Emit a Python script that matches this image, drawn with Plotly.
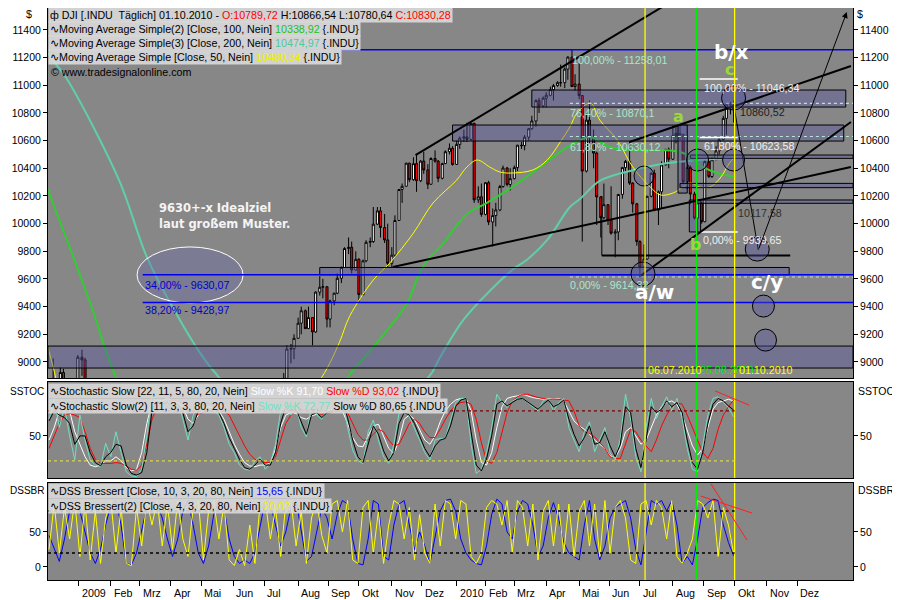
import pandas as pd
import plotly.graph_objects as go

# ---------------- price bars (2-3 trading days per bar) ----------------
candle_dates = [
    "2008-12-01", "2008-12-04", "2008-12-08", "2008-12-11", "2008-12-15", "2008-12-18", "2008-12-22", "2008-12-25", "2008-12-29",
    "2009-01-01", "2009-01-05", "2009-01-08", "2009-01-12",
    "2009-06-01", "2009-06-04", "2009-06-08", "2009-06-11", "2009-06-15", "2009-06-18", "2009-06-22", "2009-06-25", "2009-06-29", "2009-07-02",
    "2009-07-06", "2009-07-09", "2009-07-13", "2009-07-16", "2009-07-20", "2009-07-23", "2009-07-27", "2009-07-30",
    "2009-08-03", "2009-08-06", "2009-08-10", "2009-08-13", "2009-08-17", "2009-08-20", "2009-08-24", "2009-08-27",
    "2009-08-31", "2009-09-03", "2009-09-07", "2009-09-10", "2009-09-14", "2009-09-17", "2009-09-21", "2009-09-24",
    "2009-09-28", "2009-10-01", "2009-10-05", "2009-10-08", "2009-10-12", "2009-10-15", "2009-10-19", "2009-10-22", "2009-10-26", "2009-10-29",
    "2009-11-02", "2009-11-05", "2009-11-09", "2009-11-12", "2009-11-16", "2009-11-19", "2009-11-23", "2009-11-26",
    "2009-11-30", "2009-12-03", "2009-12-07", "2009-12-10", "2009-12-14", "2009-12-17", "2009-12-21", "2009-12-24", "2009-12-28", "2009-12-31",
    "2010-01-04", "2010-01-07", "2010-01-11", "2010-01-14", "2010-01-18", "2010-01-21", "2010-01-25", "2010-01-28",
    "2010-02-01", "2010-02-04", "2010-02-08", "2010-02-11", "2010-02-15", "2010-02-18", "2010-02-22", "2010-02-25",
    "2010-03-01", "2010-03-04", "2010-03-08", "2010-03-11", "2010-03-15", "2010-03-18", "2010-03-22", "2010-03-25", "2010-03-29",
    "2010-04-01", "2010-04-05", "2010-04-08", "2010-04-12", "2010-04-15", "2010-04-19", "2010-04-22", "2010-04-26", "2010-04-29",
    "2010-05-03", "2010-05-06", "2010-05-10", "2010-05-13", "2010-05-17", "2010-05-20", "2010-05-24", "2010-05-27",
    "2010-05-31", "2010-06-03", "2010-06-07", "2010-06-10", "2010-06-14", "2010-06-17", "2010-06-21", "2010-06-24",
    "2010-06-28", "2010-07-01", "2010-07-05", "2010-07-08", "2010-07-12", "2010-07-15", "2010-07-19", "2010-07-22", "2010-07-26", "2010-07-29",
    "2010-08-02", "2010-08-05", "2010-08-09", "2010-08-12", "2010-08-16", "2010-08-19", "2010-08-23", "2010-08-26",
    "2010-08-30", "2010-09-02", "2010-09-06", "2010-09-09", "2010-09-13", "2010-09-16", "2010-09-20", "2010-09-23", "2010-09-27", "2010-09-30",
]
candle_open = [
    8829, 8419, 8635, 8691, 8629, 8924, 8579, 8419, 8515,
    8668, 9034, 9015, 8599,
    8500, 8740, 8764, 8705, 8799, 8497, 8539, 8322, 8438, 8529,
    8280, 8163, 8146, 8331, 8743, 8881, 9093, 9096,
    9171, 9280, 9370, 9241, 9321, 9217, 9505, 9540,
    9544, 9310, 9441, 9497, 9605, 9683, 9820, 9829,
    9665, 9742, 9487, 9731, 9865, 9871, 9996, 10092, 9972, 9882,
    9713, 9772, 10023, 10247, 10270, 10437, 10318, 10434,
    10310, 10452, 10388, 10285, 10471, 10452, 10328, 10434, 10520, 10545,
    10428, 10573, 10618, 10627, 10609, 10725, 10172, 10194,
    10067, 10296, 10012, 10058, 10099, 10268, 10402, 10283,
    10325, 10405, 10567, 10564, 10625, 10686, 10742, 10889, 10851,
    10907, 10928, 10969, 10998, 11019, 11019, 11117, 11204, 10991,
    11009, 10926, 10380, 10748, 10620, 10510, 10193, 10043,
    10137, 10024, 9931, 9940, 10211, 10405, 10450, 10293,
    10143, 9870, 9686, 9744, 10198, 10364, 10098, 10230, 10425, 10537,
    10466, 10636, 10653, 10644, 10303, 10406, 10214, 10040,
    10150, 10014, 10448, 10341, 10462, 10526, 10608, 10761, 10860, 10858,
]
candle_high = [
    8830, 8650, 9026, 8870, 8960, 8950, 8600, 8530, 8690,
    9050, 9088, 9030, 8610,
    8760, 8770, 8800, 8880, 8800, 8590, 8540, 8490, 8560, 8530,
    8330, 8250, 8350, 8760, 8920, 9120, 9130, 9200,
    9320, 9400, 9380, 9400, 9325, 9510, 9620, 9600,
    9545, 9450, 9500, 9640, 9690, 9830, 9900, 9870,
    9800, 9750, 9740, 9880, 9900, 10120, 10120, 10120, 10070, 10000,
    9830, 10060, 10250, 10290, 10440, 10440, 10480, 10496,
    10460, 10520, 10430, 10480, 10530, 10460, 10440, 10530, 10580, 10560,
    10600, 10630, 10680, 10730, 10730, 10730, 10270, 10290,
    10300, 10310, 10110, 10150, 10280, 10420, 10410, 10400,
    10420, 10570, 10590, 10640, 10690, 10780, 10900, 10910, 10920,
    10950, 10990, 11010, 11030, 11150, 11130, 11210, 11258, 11080,
    11160, 10930, 10800, 10890, 10680, 10520, 10200, 10290,
    10140, 10270, 9960, 10200, 10410, 10460, 10595, 10300,
    10150, 9880, 9850, 10200, 10370, 10390, 10240, 10450, 10540, 10550,
    10710, 10710, 10720, 10650, 10430, 10420, 10230, 10160,
    10160, 10460, 10450, 10480, 10560, 10620, 10780, 10870, 10880, 10890,
]
candle_low = [
    8149, 8330, 8630, 8520, 8520, 8550, 8400, 8410, 8450,
    8660, 8900, 8560, 8420,
    8480, 8600, 8620, 8700, 8480, 8480, 8300, 8290, 8420, 8250,
    8150, 8087, 8140, 8330, 8740, 8850, 8990, 9020,
    9170, 9200, 9240, 9240, 9120, 9210, 9480, 9460,
    9250, 9250, 9410, 9490, 9570, 9680, 9780, 9640,
    9660, 9430, 9480, 9720, 9830, 9860, 9990, 9900, 9860, 9680,
    9679, 9760, 10020, 10150, 10270, 10300, 10310, 10230,
    10300, 10360, 10250, 10280, 10440, 10300, 10320, 10430, 10500, 10420,
    10430, 10540, 10590, 10590, 10600, 10150, 10150, 10050,
    10060, 9990, 9835, 9980, 10090, 10260, 10270, 10240,
    10320, 10380, 10540, 10530, 10600, 10680, 10700, 10800, 10840,
    10840, 10920, 10890, 10990, 10990, 10980, 11040, 10990, 10960,
    10900, 9870, 10370, 10580, 10400, 9990, 9900, 10030,
    9990, 9920, 9757, 9880, 10180, 10370, 10280, 10080,
    9840, 9614, 9680, 9740, 10190, 10090, 9990, 10110, 10420, 10400,
    10460, 10580, 10600, 10290, 10250, 10140, 10030, 9936,
    10000, 10010, 10330, 10330, 10460, 10500, 10600, 10640, 10790, 10730,
]
candle_close = [
    8419, 8635, 8691, 8629, 8924, 8579, 8419, 8515, 8668,
    9034, 9015, 8599, 8448,
    8740, 8764, 8705, 8799, 8497, 8539, 8322, 8438, 8529, 8280,
    8163, 8146, 8331, 8743, 8881, 9093, 9096, 9171,
    9280, 9370, 9241, 9321, 9217, 9505, 9540, 9544,
    9310, 9441, 9497, 9605, 9683, 9820, 9829, 9665,
    9742, 9487, 9731, 9865, 9871, 9996, 10092, 9972, 9882, 9713,
    9772, 10023, 10247, 10270, 10437, 10318, 10434, 10310,
    10452, 10388, 10285, 10471, 10452, 10328, 10434, 10520, 10545, 10428,
    10573, 10618, 10627, 10609, 10725, 10172, 10194, 10067,
    10296, 10012, 10058, 10099, 10268, 10402, 10283, 10325,
    10405, 10567, 10564, 10625, 10686, 10742, 10889, 10851, 10907,
    10928, 10969, 10998, 11019, 11019, 11117, 11204, 10991, 11009,
    10926, 10380, 10748, 10620, 10510, 10193, 10043, 10137,
    10024, 9931, 9940, 10211, 10405, 10450, 10293, 10143,
    9870, 9686, 9744, 10198, 10364, 10098, 10230, 10425, 10537, 10466,
    10636, 10653, 10644, 10303, 10406, 10214, 10040, 10150,
    10014, 10448, 10341, 10462, 10526, 10608, 10761, 10860, 10858, 10830,
]

# ---------------- moving averages ----------------
ma50_dates = ["2008-12-03", "2008-12-08", "2008-12-20", "2009-01-20", "2009-03-01", "2009-04-15", "2009-06-01", "2009-07-15",
              "2009-08-26", "2009-09-12", "2009-09-22", "2009-10-15", "2009-10-31", "2009-11-23", "2009-12-12", "2010-01-04",
              "2010-01-14", "2010-01-24", "2010-02-05", "2010-02-15", "2010-02-27", "2010-03-19", "2010-04-02", "2010-04-14",
              "2010-04-24", "2010-05-01", "2010-05-14", "2010-05-23", "2010-06-09", "2010-06-24", "2010-07-11", "2010-07-21",
              "2010-08-02", "2010-08-12", "2010-08-19", "2010-08-28", "2010-09-07", "2010-09-17", "2010-09-26", "2010-10-01"]
ma50_vals = [9108, 8963, 8700, 8600, 7900, 7500, 8100, 8500,
             8890, 9140, 9330, 9592, 9715, 9932, 10149, 10315,
             10410, 10460, 10410, 10373, 10366, 10388, 10460, 10583,
             10699, 10800, 10872, 10749, 10605, 10410, 10265, 10207,
             10221, 10265, 10294, 10265, 10265, 10330, 10438, 10480]

ma100_dates = ["2008-12-03", "2009-01-13", "2009-02-04", "2009-03-15", "2009-06-01", "2009-08-01", "2009-09-20", "2009-10-15",
               "2009-10-31", "2009-11-17", "2009-11-29", "2009-12-09", "2009-12-19", "2010-01-14", "2010-02-02", "2010-02-27",
               "2010-03-26", "2010-04-17", "2010-05-04", "2010-05-14", "2010-06-02", "2010-06-25", "2010-07-21", "2010-08-12",
               "2010-08-31", "2010-09-14", "2010-10-01"]
ma100_vals = [10243, 9426, 8942, 8300, 7700, 8300, 8886, 9108,
              9253, 9426, 9643, 9759, 9831, 10070, 10149, 10265,
              10410, 10532, 10605, 10626, 10554, 10532, 10532, 10511,
              10410, 10366, 10339]

ma200_dates = ["2008-12-03", "2008-12-10", "2008-12-22", "2009-02-10", "2009-03-09", "2009-04-03", "2009-05-12", "2009-07-15",
               "2009-10-01", "2009-12-07", "2009-12-19", "2010-01-12", "2010-02-27", "2010-03-13", "2010-04-02", "2010-04-24",
               "2010-05-04", "2010-05-23", "2010-06-25", "2010-07-28", "2010-08-28", "2010-10-01"]
ma200_vals = [11234, 11161, 11038, 10315, 9759, 9397, 8942, 8500,
              8600, 8886, 9036, 9318, 9665, 9737, 9882, 10120,
              10180, 10310, 10388, 10438, 10460, 10475]

# ---------------- oscillators, sampled every 5 days ----------------
osc_dates = pd.date_range("2008-12-04", periods=134, freq="5D")

stoch_k1 = [45, 60, 80, 89, 80, 55, 40, 25, 15, 13,
            15, 20, 20, 25, 20, 12, 8, 10, 30, 65,
            90, 93, 92, 95, 92, 90, 85, 70, 65, 75,
            82, 85, 83, 80, 70, 55, 40, 28, 18, 14,
            13, 15, 15, 18, 35, 60, 75, 78, 77, 72,
            70, 74, 76, 78, 80, 82, 85, 80, 65, 48,
            38, 37, 50, 62, 64, 50, 35, 29, 45, 70,
            75, 70, 58, 45, 40, 50, 67, 80, 88, 93,
            95, 95, 80, 45, 18, 15, 30, 60, 85, 95,
            97, 98, 100, 98, 96, 95, 94, 95, 94, 95,
            92, 80, 68, 62, 58, 52, 45, 40, 35, 26,
            24, 35, 55, 60, 50, 40, 45, 60, 75, 85,
            90, 92, 88, 75, 55, 38, 27, 35, 60, 82,
            90, 92, 94, 92]
stoch_d1 = [35, 50, 65, 75, 77, 75, 72, 55, 35, 22,
            17, 17, 17, 18, 17, 14, 10, 9, 15, 40,
            70, 85, 90, 92, 93, 92, 90, 85, 78, 76,
            78, 80, 82, 82, 80, 75, 62, 50, 38, 28,
            22, 20, 18, 18, 25, 45, 65, 75, 80, 82,
            80, 78, 77, 76, 77, 78, 80, 82, 78, 65,
            52, 45, 45, 52, 58, 55, 45, 38, 40, 52,
            65, 70, 65, 55, 48, 48, 58, 70, 80, 87,
            90, 91, 88, 70, 42, 20, 17, 30, 55, 78,
            92, 97, 100, 100, 98, 96, 95, 94, 94, 94,
            93, 92, 80, 62, 55, 53, 49, 42, 35, 25,
            23, 23, 40, 58, 55, 45, 38, 31, 45, 62,
            75, 85, 90, 88, 75, 60, 45, 30, 23, 35,
            58, 75, 85, 93]
stoch_k2 = [70, 95, 60, 85, 50, 21, 75, 45, 21, 15,
            13, 41, 25, 55, 30, 7, 2, 1, 10, 50,
            98, 90, 85, 95, 80, 92, 70, 45, 75, 85,
            90, 93, 80, 75, 60, 40, 30, 15, 10, 9,
            20, 25, 10, 17, 40, 80, 88, 75, 85, 60,
            49, 88, 75, 70, 82, 80, 90, 95, 60, 33,
            20, 17, 55, 69, 45, 25, 17, 40, 77, 80,
            73, 60, 45, 30, 21, 45, 47, 47, 70, 90,
            95, 95, 40, 5, 10, 30, 60, 100, 90, 84,
            92, 95, 95, 90, 85, 80, 92, 95, 80, 90,
            95, 60, 45, 31, 55, 67, 31, 45, 60, 30,
            21, 47, 100, 70, 25, 7, 60, 95, 71, 85,
            97, 80, 95, 71, 35, 10, 7, 39, 75, 95,
            97, 90, 84, 73]
stoch_d2 = [68, 80, 75, 72, 65, 40, 50, 50, 30, 18,
            14, 25, 30, 40, 38, 15, 5, 3, 6, 30,
            80, 92, 88, 90, 85, 88, 78, 55, 62, 80,
            88, 90, 85, 78, 65, 48, 35, 22, 12, 10,
            15, 22, 15, 15, 30, 65, 85, 80, 82, 68,
            52, 75, 78, 72, 78, 80, 87, 92, 72, 45,
            25, 18, 40, 62, 52, 32, 20, 30, 65, 78,
            75, 65, 50, 35, 25, 38, 45, 47, 62, 85,
            93, 95, 55, 15, 8, 22, 50, 88, 92, 86,
            90, 94, 95, 91, 87, 82, 88, 93, 85, 88,
            93, 70, 52, 38, 48, 62, 40, 42, 55, 38,
            25, 40, 85, 78, 35, 12, 45, 85, 78, 82,
            92, 85, 90, 78, 45, 18, 10, 30, 65, 88,
            95, 92, 86, 81]
dss1 = [45, 25, 8, 40, 80, 95, 80, 50, 20, 5,
        25, 60, 88, 95, 60, 5, 3, 20, 55, 85,
        93, 90, 70, 40, 15, 40, 80, 95, 60, 20,
        5, 30, 75, 95, 85, 40, 15, 5, 10, 5,
        20, 60, 95, 90, 60, 30, 50, 85, 95, 50,
        8, 15, 50, 85, 70, 40, 75, 95, 90, 40,
        5, 3, 40, 95, 90, 15, 10, 60, 90, 95,
        60, 25, 50, 30, 5, 40, 80, 95, 97, 80,
        40, 20, 10, 5, 3, 30, 75, 97, 90, 50,
        40, 80, 95, 90, 60, 15, 30, 70, 92, 70,
        35, 20, 15, 10, 60, 95, 40, 10, 30, 70,
        85, 90, 95, 70, 25, 3, 50, 95, 90, 95,
        80, 95, 60, 5, 15, 3, 40, 85, 92, 97,
        95, 60, 35, 16]
dss2 = [25, 90, 20, 85, 40, 95, 15, 90, 10, 80,
        5, 70, 95, 20, 85, 5, 2, 85, 30, 95,
        60, 95, 30, 90, 25, 95, 40, 15, 85, 95,
        10, 80, 95, 40, 90, 10, 2, 25, 2, 60,
        5, 90, 95, 40, 85, 15, 90, 95, 30, 80,
        5, 70, 95, 45, 20, 90, 95, 50, 95, 10,
        5, 85, 95, 20, 80, 5, 60, 95, 90, 40,
        85, 10, 75, 20, 5, 90, 30, 95, 90, 40,
        95, 90, 15, 5, 20, 85, 95, 90, 60, 95,
        20, 95, 85, 30, 90, 10, 80, 95, 30, 90,
        20, 90, 15, 80, 95, 30, 90, 15, 95, 20,
        85, 95, 70, 10, 5, 90, 95, 60, 95, 85,
        40, 95, 15, 5, 20, 40, 95, 90, 70, 95,
        15, 85, 60, 20]

month_ticks = ["2009-01-02", "2009-02-02", "2009-03-02", "2009-04-01", "2009-05-01", "2009-06-01", "2009-07-01",
               "2009-08-03", "2009-09-01", "2009-10-01", "2009-11-02", "2009-12-01", "2010-01-04", "2010-02-01",
               "2010-03-01", "2010-04-01", "2010-05-03", "2010-06-01", "2010-07-01", "2010-08-02", "2010-09-01",
               "2010-10-01", "2010-11-01", "2010-12-01"]
month_labels = ["2009", "Feb", "Mrz", "Apr", "Mai", "Jun", "Jul", "Aug", "Sep", "Okt", "Nov", "Dez",
                "2010", "Feb", "Mrz", "Apr", "Mai", "Jun", "Jul", "Aug", "Sep", "Okt", "Nov", "Dez"]
price_ticks = list(range(9000, 11401, 200))

# ---------------- figure ----------------
# The page puts the figure 8px in from the top-left corner, so the figure is 892x592
# and all placements below are given in page pixels (px) and converted.
X_RANGE = ["2008-12-03", "2011-01-24"]
FONT = "Liberation Sans, Arial, sans-serif"
FILL = "rgba(85,85,160,0.40)"
PLOT_L, PLOT_R, PLOT_T, PLOT_B = 48, 853, 8, 580

fig = go.Figure()
fig.add_trace(go.Candlestick(
    x=candle_dates, open=candle_open, high=candle_high, low=candle_low, close=candle_close,
    increasing=dict(line=dict(color="black", width=1), fillcolor="white"),
    decreasing=dict(line=dict(color="black", width=1), fillcolor="#ff0000"),
    xaxis="x", yaxis="y", showlegend=False, hoverinfo="skip"))
fig.add_trace(go.Scatter(x=ma200_dates, y=ma200_vals, mode="lines", line=dict(color="#5fcfaa", width=2, shape="spline"),
                         xaxis="x", yaxis="y", showlegend=False, hoverinfo="skip"))
fig.add_trace(go.Scatter(x=ma100_dates, y=ma100_vals, mode="lines", line=dict(color="#33cc33", width=2, shape="spline"),
                         xaxis="x", yaxis="y", showlegend=False, hoverinfo="skip"))
fig.add_trace(go.Scatter(x=ma50_dates, y=ma50_vals, mode="lines", line=dict(color="#ffff00", width=1, shape="spline"),
                         xaxis="x", yaxis="y", showlegend=False, hoverinfo="skip"))

for vals, col in [(stoch_k1, "#ffffff"), (stoch_d1, "#ff0000"), (stoch_k2, "#70e0c0"), (stoch_d2, "#000000")]:
    fig.add_trace(go.Scatter(x=osc_dates, y=vals, mode="lines", line=dict(color=col, width=1),
                             xaxis="x2", yaxis="y2", showlegend=False, hoverinfo="skip"))
for vals, col in [(dss1, "#0000ff"), (dss2, "#ffff00")]:
    fig.add_trace(go.Scatter(x=osc_dates, y=vals, mode="lines", line=dict(color=col, width=1),
                             xaxis="x3", yaxis="y3", showlegend=False, hoverinfo="skip"))

# invisible anchors for the right-hand axes
for ya, xa, yv in [("y4", "x", 10000), ("y5", "x2", 50), ("y6", "x3", 50)]:
    fig.add_trace(go.Scatter(x=["2009-06-01"], y=[yv], mode="markers", marker=dict(opacity=0),
                             xaxis=xa, yaxis=ya, showlegend=False, hoverinfo="skip"))

# ---------------- shapes ----------------
shapes = []


def line(x0, y0, x1, y1, color="black", width=2, dash="solid", xref="x", yref="y"):
    shapes.append(dict(type="line", x0=x0, y0=y0, x1=x1, y1=y1, xref=xref, yref=yref,
                       line=dict(color=color, width=width, dash=dash)))


def rect(x0, y0, x1, y1, fill=FILL, lc="black"):
    shapes.append(dict(type="rect", x0=x0, y0=y0, x1=x1, y1=y1, xref="x", yref="y",
                       fillcolor=fill, line=dict(color=lc, width=1)))


def circ(xd, yv, r=11):
    shapes.append(dict(type="circle", xref="x", yref="y", xsizemode="pixel", ysizemode="pixel",
                       xanchor=xd, yanchor=yv, x0=-r, x1=r, y0=-r, y1=r,
                       fillcolor=FILL, line=dict(color="black", width=1)))


# zones
rect(X_RANGE[0], 8956, X_RANGE[1], 9115)
rect("2009-08-24", 9630, "2010-11-23", 9683)
rect("2009-12-31", 10597, "2011-01-15", 10713)
rect("2010-03-18", 10843, "2011-01-17", 10966)
rect("2010-08-07", 10221, "2010-08-16", 10713)
rect("2010-08-18", 9940, "2010-08-29", 10171)
rect("2010-08-19", 10472, X_RANGE[1], 10496)
rect("2010-08-09", 10260, X_RANGE[1], 10291)
rect("2010-08-25", 10147, X_RANGE[1], 10171)

# target ellipse
shapes.append(dict(type="circle", xref="x", yref="y", xsizemode="pixel", ysizemode="pixel",
                   xanchor="2009-04-20", yanchor=9629, x0=-53, x1=53, y0=-28, y1=28,
                   fillcolor="rgba(100,100,170,0.35)", line=dict(color="white", width=1)))

# fib levels (blue)
for lvl in [11258.01, 9630.07, 9428.97]:
    line("2009-03-05", lvl, X_RANGE[1], lvl, color="#0000ee", width=1.5)
# fib dotted levels
for lvl in [10870.1, 10630.12, 9614.32]:
    line("2010-04-24", lvl, X_RANGE[1], lvl, color="#b8e6d6", width=1.2, dash="dot")
# short white fib markers
for lvl in [11046.34, 10623.58, 9939.65]:
    line("2010-08-28", lvl, "2010-10-04", lvl, color="white", width=1.5)

# trend lines
line("2009-11-25", 10496, "2010-08-03", 11617)
line("2009-11-03", 9686, "2011-01-22", 10409)
line("2010-06-21", 10590, "2011-01-22", 11140)
line("2010-07-02", 9625, "2011-01-22", 10735)
line("2010-05-25", 9770, "2010-11-24", 9770)
line("2010-05-25", 9770, "2010-05-25", 10200, width=1)
line("2010-10-01", 10822, "2010-10-24", 9809, width=1)

# circles
circ("2010-07-05", 10344, 10)
circ("2010-08-26", 10460)
circ("2010-09-30", 10460)
circ("2010-09-30", 10908, 12)
circ("2010-07-04", 9636, 12)
circ("2010-10-23", 9816, 12)
circ("2010-10-29", 9404)
circ("2010-10-31", 9158)

# vertical date markers in all panels
for d, col in [("2010-07-06", "#ffff00"), ("2010-08-25", "#00ee00"), ("2010-10-01", "#ffff00")]:
    for xr_, yr_ in [("x", "y domain"), ("x2", "y2 domain"), ("x3", "y3 domain")]:
        line(d, 0, d, 1, color=col, width=1.3, xref=xr_, yref=yr_)

# oscillator reference levels
line(X_RANGE[0], 80, "2010-10-01", 80, color="#7a0000", width=1.3, dash="dot", xref="x2", yref="y2")
line(X_RANGE[0], 20, "2010-10-01", 20, color="#d6d64a", width=1.3, dash="dot", xref="x2", yref="y2")
line(X_RANGE[0], 80, "2010-10-01", 80, color="black", width=1.5, dash="dot", xref="x3", yref="y3")
line(X_RANGE[0], 20, "2010-10-01", 20, color="black", width=1.5, dash="dot", xref="x3", yref="y3")
# red divergence lines
line("2010-09-12", 104, "2010-10-15", 87, color="#ff2020", width=1, xref="x2", yref="y2")
line("2010-09-08", 118.6, "2010-10-13", 38.6, color="#ff2020", width=1, xref="x3", yref="y3")
line("2010-08-29", 101.4, "2010-10-18", 77, color="#ff2020", width=1, xref="x3", yref="y3")

# ---------------- annotations ----------------
ann = []


def X(px):
    return (px - PLOT_L) / float(PLOT_R - PLOT_L)


def Y(py):
    return (PLOT_B - py) / float(PLOT_B - PLOT_T)


def txt(px, py, text, color="black", size=10.7, bold=False, xanchor="left", bg=None, family=FONT):
    if bold:
        text = "<b>" + text + "</b>"
    d = dict(x=X(px), y=Y(py), xref="paper", yref="paper", text=text, showarrow=False,
             xanchor=xanchor, yanchor="middle", font=dict(color=color, size=size, family=family),
             borderpad=1)
    if bg:
        d["bgcolor"] = bg
    ann.append(d)


# label hidden behind the legend (drawn first)
txt(143, 58, "100,00% - 11258,01", color="#0000cc")

BOX = "rgba(218,218,218,0.90)"
txt(48, 15, "ф DJI [.INDU  Täglich] 01.10.2010 - <span style='color:#ff0000'>O:10789,72</span> "
            "H:10866,54 L:10780,64 <span style='color:#ff0000'>C:10830,28</span>", bg=BOX)
txt(48, 29, "∿Moving Average Simple(2) [Close, 100, Nein] <span style='color:#22c022'>10338,92</span> {.INDU}", bg=BOX)
txt(48, 43, "∿Moving Average Simple(3) [Close, 200, Nein] <span style='color:#4fc7a0'>10474,97</span> {.INDU}", bg=BOX)
txt(48, 57, "∿Moving Average Simple [Close, 50, Nein] <span style='color:#eeee00'>10480,34</span> {.INDU}", bg=BOX)
txt(49, 72, "© www.tradesignalonline.com")

txt(48, 391, "∿Stochastic Slow [22, 11, 5, 80, 20, Nein] <span style='color:#ffffff'>Slow %K 91,70</span> "
             "<span style='color:#ff0000'>Slow %D 93,02</span> {.INDU}", bg=BOX)
txt(48, 406, "∿Stochastic Slow(2) [11, 3, 3, 80, 20, Nein] <span style='color:#70e0c0'>Slow %K 72,77</span> "
             "Slow %D 80,65 {.INDU}", bg=BOX)
txt(48, 491, "∿DSS Bressert [Close, 10, 3, 20, 80, Nein] <span style='color:#0000ff'>15,65</span> {.INDU}", bg=BOX)
txt(48, 506, "∿DSS Bressert(2) [Close, 4, 3, 20, 80, Nein] <span style='color:#eeee00'>20,02</span> {.INDU}", bg=BOX)

# axis captions
txt(29, 14, "$", xanchor="center")
txt(860, 14, "$", xanchor="center")
txt(8, 391, "SSTOC", size=10)
txt(856, 391, "SSTOC", size=10.5)
txt(8, 490, "DSSBR", size=10)
txt(856, 490, "DSSBR", size=10.5)

# chart notes
txt(157, 208, "9630+-x Idealziel", color="#f4f4f4", size=11.5, bold=True, family="DejaVu Sans")
txt(157, 224, "laut großem Muster.", color="#f4f4f4", size=11.5, bold=True, family="DejaVu Sans")
txt(143, 285, "34,00% - 9630,07", color="#0000cc")
txt(143, 310, "38,20% - 9428,97", color="#0000cc")
txt(570, 60, "100,00% - 11258,01", color="#a6e8cc")
txt(568, 113, "76,40% - 10870,1", color="#a6e8cc")
txt(568, 147, "61,80% - 10630,12", color="#a6e8cc")
txt(568, 285, "0,00% - 9614,32", color="#a6e8cc")
txt(702, 88, "100,00% - 11046,34", color="#f0f0f0")
txt(702, 146, "61,80% - 10623,58", color="#f0f0f0")
txt(701, 240, "0,00% - 9939,65", color="#f0f0f0")
txt(738, 112, "10860,52", color="#202020")
txt(736, 213, "10117,58", color="#303030")
txt(731, 52, "b/x", color="white", size=20, bold=True, xanchor="center", family="DejaVu Sans")
txt(729, 69, "c", color="#9ad83a", size=16, bold=True, xanchor="center", family="DejaVu Sans")
txt(678, 116, "a", color="#9ad83a", size=16, bold=True, xanchor="center", family="DejaVu Sans")
txt(695, 244, "b", color="#9ad83a", size=16, bold=True, xanchor="center", family="DejaVu Sans")
txt(654, 292, "a/w", color="white", size=20, bold=True, xanchor="center", family="DejaVu Sans")
txt(767, 282, "c/y", color="white", size=20, bold=True, xanchor="center", family="DejaVu Sans")
txt(646, 370, "06.07.2010", color="#ffff00")
txt(698, 370, "25.08.2010", color="#00ee00")
txt(737, 370, "01.10.2010", color="#ffff00")

# projection arrow
ann.append(dict(x="2011-01-18", y=11530, ax="2010-10-24", ay=9809, xref="x", yref="y", axref="x", ayref="y",
                showarrow=True, arrowhead=2, arrowsize=1.2, arrowwidth=1, arrowcolor="black", text=""))

# month labels, placed just right of each tick
for d, lab in zip(month_ticks, month_labels):
    ann.append(dict(x=d, y=Y(593), xref="x3", yref="paper", text=lab, showarrow=False, xanchor="left",
                    yanchor="middle", xshift=1, font=dict(size=10.7, family=FONT, color="black")))

# ---------------- axes ----------------
xcommon = dict(range=X_RANGE, type="date", showgrid=False, zeroline=False, showline=True, linecolor="black",
               linewidth=1, mirror=True, showticklabels=False, ticks="")
ycommon = dict(showgrid=False, zeroline=False, showline=True, linecolor="black", linewidth=1, mirror=True,
               ticks="outside", ticklen=4, tickcolor="black", tickfont=dict(size=10.5, family=FONT, color="black"))

PRICE_RANGE = [8884, 11559]
fig.update_layout(
    width=892, height=592,
    margin=dict(l=40, r=47, t=0, b=20),
    paper_bgcolor="white", plot_bgcolor="#878787",
    hovermode=False, showlegend=False,
    xaxis=dict(xcommon, anchor="y", rangeslider=dict(visible=False)),
    xaxis2=dict(xcommon, anchor="y2"),
    xaxis3=dict(xcommon, anchor="y3", ticks="outside", ticklen=5, tickcolor="black", tickvals=month_ticks),
    yaxis=dict(ycommon, domain=[Y(378), 1.0], range=PRICE_RANGE, tickvals=price_ticks,
               ticktext=[str(v) for v in price_ticks], anchor="x"),
    yaxis4=dict(ycommon, overlaying="y", side="right", range=PRICE_RANGE, tickvals=price_ticks,
                ticktext=[str(v) for v in price_ticks], anchor="x", showline=False),
    yaxis2=dict(ycommon, domain=[Y(478), Y(382)], range=[-0.5, 114.7], tickvals=[50], ticktext=["50"], anchor="x2"),
    yaxis5=dict(ycommon, overlaying="y2", side="right", range=[-0.5, 114.7], tickvals=[50], ticktext=["50"],
                anchor="x2", showline=False),
    yaxis3=dict(ycommon, domain=[0.0, Y(483)], range=[-18.6, 120], tickvals=[0, 50], ticktext=["0", "50"], anchor="x3"),
    yaxis6=dict(ycommon, overlaying="y3", side="right", range=[-18.6, 120], tickvals=[0, 50], ticktext=["0", "50"],
                anchor="x3", showline=False),
    shapes=shapes,
    annotations=ann,
    boxgap=0.05,
)

fig.write_html("out.html")
